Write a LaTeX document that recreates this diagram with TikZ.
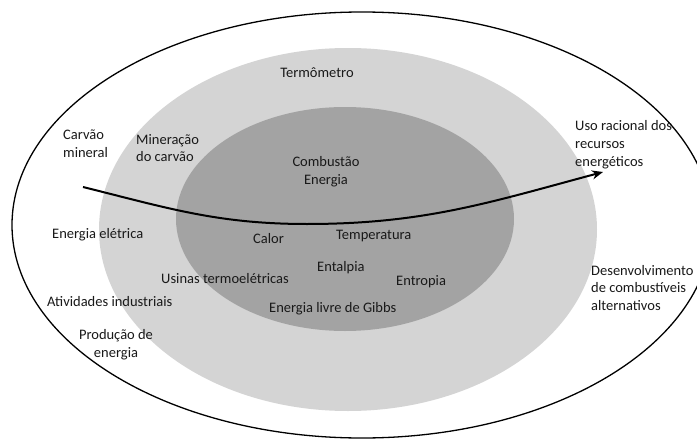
\documentclass[tikz,border=0pt]{standalone}
\usepackage{fontspec}
\setmainfont{Carlito}
\usetikzlibrary{arrows.meta}
\definecolor{lightg}{HTML}{D4D4D4}
\definecolor{darkg}{HTML}{A3A3A3}
\tikzset{
  lbl/.style={inner sep=0pt, align=left, font=\fontsize{14.5}{17.8}\selectfont, text=black!90},
  lblc/.style={lbl, align=center},
}
\begin{document}
\begin{tikzpicture}[x=1pt,y=-1pt]
\useasboundingbox (0,0) rectangle (697,439);
\fill[white] (0,0) rectangle (697,439);
% ellipses
\draw[line width=1.3pt] (362,225) ellipse [x radius=350pt, y radius=213pt];
\fill[lightg] (348,229.5) ellipse [x radius=249pt, y radius=181.5pt];
\fill[darkg] (345,219) ellipse [x radius=169pt, y radius=112pt];
% texts
\node[lblc] (termo) at (317,73) {Termômetro};
\node[lbl, anchor=west] (carvao) at (63,144) {Carvão\\mineral};
\node[lbl, anchor=west] (mineracao) at (136,148) {Mineração\\do carvão};
\node[lblc] (combustao) at (326,172) {Combustão\\Energia};
\node[lbl, anchor=west] (uso) at (575,145) {Uso racional dos\\recursos\\energéticos};
\node[lbl, anchor=west] (eletrica) at (52,235) {Energia elétrica};
\node[lbl, anchor=west] (calor) at (253,239) {Calor};
\node[lbl, anchor=west] (temp) at (336,236) {Temperatura};
\node[lbl, anchor=west] (entalpia) at (317,268) {Entalpia};
\node[lbl, anchor=west] (entropia) at (396,282) {Entropia};
\node[lbl, anchor=west] (usinas) at (161,279) {Usinas termoelétricas};
\node[lbl, anchor=west] (ativ) at (47,302) {Atividades industriais};
\node[lbl, anchor=west] (gibbs) at (269,309) {Energia livre de Gibbs};
\node[lblc] (producao) at (116,345) {Produção de\\energia};
\node[lbl, anchor=west] (desenv) at (591,288) {Desenvolvimento\\de combustíveis\\alternativos};
% arrow
\coordinate (astart) at (83,187);
\coordinate (amid) at (307,224);
\coordinate (aend) at (603,172);
\draw[line width=2pt, -{Stealth[length=11pt,width=9pt]}] (astart) to[out=-14,in=180] (amid) to[out=0,in=195] (aend);
\end{tikzpicture}
\end{document}
